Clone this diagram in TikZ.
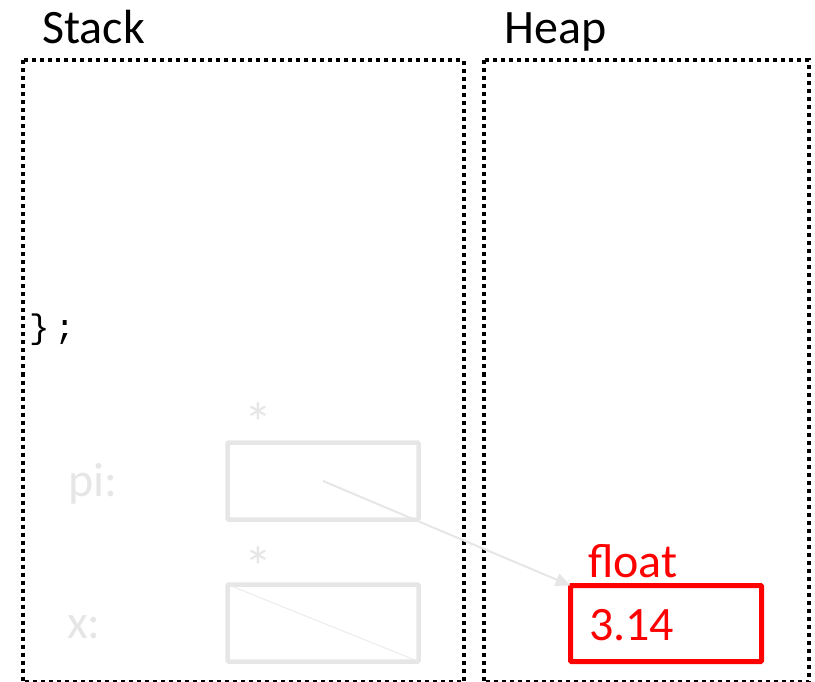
\documentclass[tikz,border=0pt]{standalone}
\usepackage{fontspec}
\setmainfont{Carlito}
\newfontfamily\codefont{Liberation Mono}
\usetikzlibrary{arrows.meta}
\definecolor{faded}{HTML}{E6E6E6}
\definecolor{fadedline}{HTML}{EBEBEB}
\definecolor{valred}{HTML}{FF0000}
\tikzset{
  region/.style={draw=black, line width=4pt, dash pattern=on 4pt off 4pt},
  title/.style={anchor=base west, inner sep=0pt, font=\fontsize{48}{50}\selectfont},
  label/.style={anchor=base west, inner sep=0pt, text=faded, font=\fontsize{48}{50}\selectfont},
  ptrmark/.style={anchor=base, inner sep=0pt, text=faded, font=\fontsize{56}{60}\selectfont},
  cell/.style={draw=faded, line width=4.5pt, rounded corners=1pt, minimum width=191pt, minimum height=77pt, inner sep=0pt, outer sep=0pt},
  valcell/.style={draw=valred, line width=5pt, rounded corners=1pt, minimum width=191pt, minimum height=76pt, inner sep=0pt, outer sep=0pt},
  valtext/.style={anchor=base west, inner sep=0pt, text=valred, font=\fontsize{48}{50}\selectfont}
}
\begin{document}
\begin{tikzpicture}[x=1pt, y=-1pt]
\useasboundingbox (0,0) rectangle (815,682);
\clip (0,0) rectangle (815,682);

% memory regions
\draw[region] (22.8,60.5) rectangle (464,682);
\draw[region] (483.7,60.5) rectangle (808.7,682);
\node[title] (stacklbl) at (42,44) {Stack};
\node[title] (heaplbl) at (504,44) {Heap};

% tail of the code listing
\node[anchor=base west, inner sep=0pt, font=\codefont\fontsize{34}{40}\selectfont] (code) at (29,338) {\}\kern5pt;};

% stack variables
\node[label] (pilbl) at (68,496) {pi:};
\node[label] (xlbl) at (67,638) {x:};
\node[ptrmark] (pistar) at (258,442) {*};
\node[ptrmark] (xstar) at (258,586) {*};
\node[cell] (pibox) at (323,481) {};
\node[cell] (xbox) at (323,623) {};
\draw[fadedline, line width=1pt] (xbox.north west) -- (xbox.south east);

% heap value
\node[valtext] (typelbl) at (588,577) {float};
\node[valcell] (valbox) at (666,623.5) {};
\node[valtext] (val) at (589,640) {3.14};

% pointer
\draw[faded, line width=2pt, -{Triangle[length=15pt, width=13pt]}] (pibox.center) -- (valbox.north west);
\end{tikzpicture}
\end{document}
